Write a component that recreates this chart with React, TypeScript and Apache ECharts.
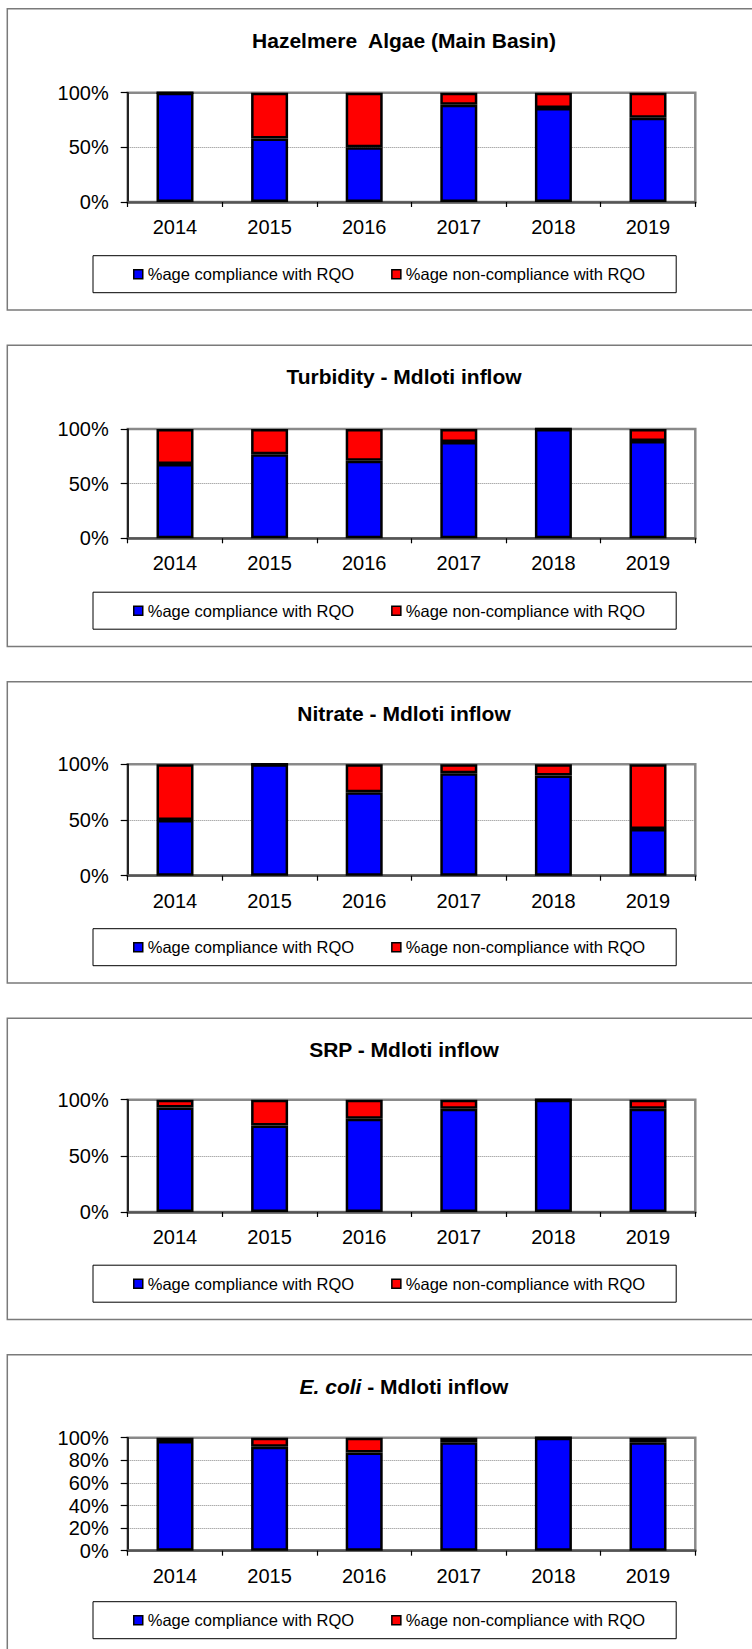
import React, { useEffect, useRef } from "react";
import * as echarts from "echarts";

const FONT = "'Liberation Sans', Arial, Helvetica, sans-serif";

const years = ["2014", "2015", "2016", "2017", "2018", "2019"];
const seriesNames = ["%age compliance with RQO", "%age non-compliance with RQO"];

const algaeCompliance = [100, 58, 50, 89, 86, 77];
const algaeNonCompliance = [0, 42, 50, 11, 14, 23];
const turbidityCompliance = [68, 77, 71, 88, 100, 89];
const turbidityNonCompliance = [32, 23, 29, 12, 0, 11];
const nitrateCompliance = [50, 100, 75, 92, 90, 42];
const nitrateNonCompliance = [50, 0, 25, 8, 10, 58];
const srpCompliance = [93, 77, 83, 92, 100, 92];
const srpNonCompliance = [7, 23, 17, 8, 0, 8];
const ecoliCompliance = [97, 92, 87, 96, 100, 96];
const ecoliNonCompliance = [3, 8, 13, 4, 0, 4];

const panelTitles = [
  "Hazelmere  Algae (Main Basin)",
  "Turbidity - Mdloti inflow",
  "Nitrate - Mdloti inflow",
  "SRP - Mdloti inflow",
  "{i|E. coli}{b| - Mdloti inflow}",
];
const yIntervals = [50, 50, 50, 50, 20];

const complianceSets = [algaeCompliance, turbidityCompliance, nitrateCompliance, srpCompliance, ecoliCompliance];
const nonComplianceSets = [algaeNonCompliance, turbidityNonCompliance, nitrateNonCompliance, srpNonCompliance, ecoliNonCompliance];

// layout (pixels)
const panelTops = [8.7, 345.2, 681.7, 1018.2, 1354.7];
const plotTops = [92.7, 429, 764.3, 1099.7, 1437.7];
const plotHeights = [109.3, 109.3, 111.4, 112.3, 113];
const PLOT_LEFT = 127.7;
const PLOT_WIDTH = 567.6;

export default function App() {
  const ref = useRef<HTMLDivElement>(null);

  useEffect(() => {
    if (!ref.current) return;
    const chart = echarts.init(ref.current, undefined, { renderer: "svg" });

    const grids = panelTops.map((_, i) => ({
      left: PLOT_LEFT,
      top: plotTops[i],
      width: PLOT_WIDTH,
      height: plotHeights[i],
      show: true,
      borderColor: "#8a8a8a",
      borderWidth: 2.5,
      backgroundColor: "#ffffff",
      containLabel: false,
    }));

    const xAxes = panelTops.map((_, i) => ({
      type: "category",
      gridIndex: i,
      data: years,
      boundaryGap: true,
      axisLine: { show: true, lineStyle: { color: "#555555", width: 2.5 } },
      axisTick: { show: true, length: 5, lineStyle: { color: "#000000", width: 1.2 } },
      axisLabel: { interval: 0, margin: 15, fontSize: 20, color: "#000000", fontFamily: FONT },
      splitLine: { show: false },
    }));

    const yAxes = panelTops.map((_, i) => ({
      type: "value",
      gridIndex: i,
      min: 0,
      max: 100,
      interval: yIntervals[i],
      axisLine: { show: true, lineStyle: { color: "#000000", width: 1.5 } },
      axisTick: { show: true, length: 7, lineStyle: { color: "#000000", width: 1.2 } },
      axisLabel: { formatter: "{value}%", margin: 19, fontSize: 20, color: "#000000", fontFamily: FONT },
      splitLine: { show: true, lineStyle: { color: "#888888", width: 1, type: "dotted" } },
    }));

    const series: any[] = [];
    panelTops.forEach((_, i) => {
      series.push({
        name: seriesNames[0],
        type: "bar",
        stack: "s" + i,
        xAxisIndex: i,
        yAxisIndex: i,
        barWidth: 37,
        data: complianceSets[i],
        itemStyle: { color: "#0000ff", borderColor: "#000000", borderWidth: 2.5 },
      });
      series.push({
        name: seriesNames[1],
        type: "bar",
        stack: "s" + i,
        xAxisIndex: i,
        yAxisIndex: i,
        barWidth: 37,
        data: nonComplianceSets[i],
        itemStyle: { color: "#ff0000", borderColor: "#000000", borderWidth: 2.5 },
      });
    });

    const titles = panelTops.map((t, i) => ({
      text: panelTitles[i],
      left: 404,
      top: t + 21,
      textAlign: "center",
      padding: 0,
      textStyle: {
        fontSize: 21,
        fontWeight: "bold",
        color: "#000000",
        fontFamily: FONT,
        rich: {
          i: { fontSize: 21, fontWeight: "bold", fontStyle: "italic", color: "#000000", fontFamily: FONT },
          b: { fontSize: 21, fontWeight: "bold", color: "#000000", fontFamily: FONT },
        },
      },
    }));

    const legends = panelTops.map((t) => ({
      data: seriesNames,
      left: 93,
      top: t + 247,
      orient: "horizontal",
      icon: "rect",
      itemWidth: 9,
      itemHeight: 9,
      itemGap: 37,
      padding: [10, 31, 10, 40],
      borderColor: "#000000",
      borderWidth: 1,
      backgroundColor: "#ffffff",
      selectedMode: false,
      itemStyle: { borderColor: "#000000", borderWidth: 1.5 },
      textStyle: { fontSize: 16.5, color: "#000000", fontFamily: FONT },
    }));

    const graphic = panelTops.map((t) => ({
      type: "rect",
      silent: true,
      z: -10,
      shape: { x: 7.3, y: t, width: 800, height: 301.3 },
      style: { fill: "#ffffff", stroke: "#7a7a7a", lineWidth: 1.5 },
    }));

    chart.setOption({
      animation: false,
      backgroundColor: "#ffffff",
      title: titles,
      legend: legends,
      grid: grids,
      xAxis: xAxes,
      yAxis: yAxes,
      series,
      graphic,
    });

    return () => chart.dispose();
  }, []);

  return (
    <div
      ref={ref}
      style={{ position: "absolute", left: 0, top: 0, width: 752, height: 1649, background: "#ffffff" }}
    />
  );
}
